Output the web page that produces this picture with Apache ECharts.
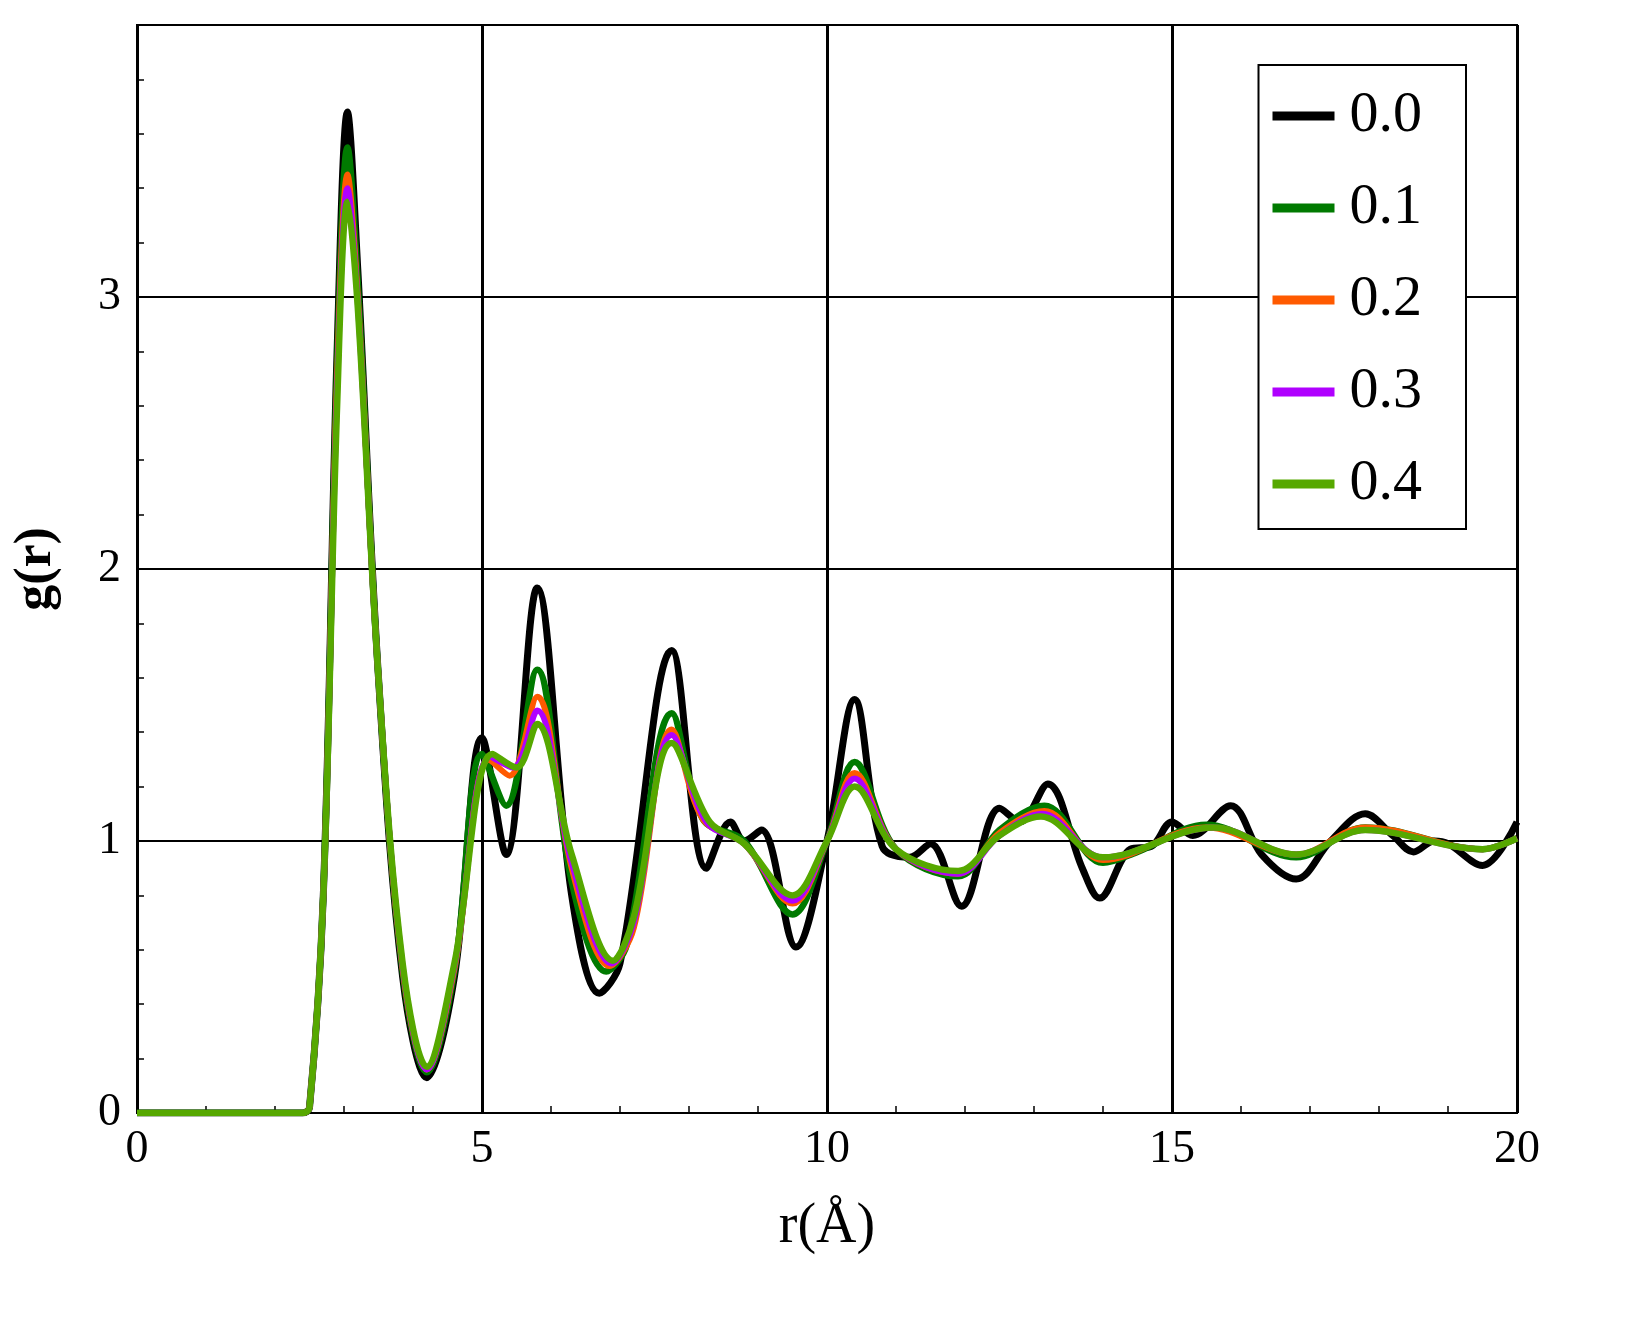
<!DOCTYPE html>
<html>
<head>
<meta charset="utf-8">
<script src="https://cdn.jsdelivr.net/npm/echarts@6/dist/echarts.min.js"></script>
<style>html,body{margin:0;padding:0;background:#fff}#chart{width:1632px;height:1336px}</style>
</head>
<body>
<div id="chart"></div>
<script>
// g(r) key points, [r, g]
const names = ['0.0', '0.1', '0.2', '0.3', '0.4'];
const colors = ['#000000', '#007a00', '#ff5a00', '#b000ff', '#56a800'];
const widths = [7, 6.5, 6, 6, 6.5];
const g00 = [[0,0],[2.4,0],[2.5,0.02],[2.7,0.8],[2.9,2.8],[3.05,3.68],[3.2,3.1],[3.5,1.6],[3.85,0.5],[4.2,0.13],[4.6,0.5],[5.0,1.38],[5.35,0.95],[5.8,1.93],[6.3,0.8],[6.7,0.44],[7.0,0.55],[7.75,1.70],[8.25,0.9],[8.6,1.07],[8.8,1.0],[9.05,1.04],[9.55,0.61],[10.0,1.0],[10.4,1.52],[10.8,0.98],[11.2,0.94],[11.5,0.99],[11.95,0.76],[12.5,1.12],[12.8,1.07],[13.2,1.21],[13.7,0.9],[13.95,0.79],[14.4,0.97],[14.7,0.98],[15.0,1.07],[15.3,1.02],[15.85,1.13],[16.3,0.95],[16.8,0.86],[17.3,1.0],[17.8,1.1],[18.2,1.02],[18.5,0.96],[18.8,1.0],[19.0,0.99],[19.5,0.91],[20,1.07]];
const g01 = [[0,0],[2.4,0],[2.5,0.02],[2.7,0.8],[2.9,2.75],[3.05,3.55],[3.2,3.05],[3.5,1.6],[3.85,0.52],[4.2,0.15],[4.6,0.52],[5.0,1.32],[5.35,1.13],[5.8,1.63],[6.3,0.85],[6.8,0.52],[7.1,0.62],[7.75,1.47],[8.2,1.08],[8.8,1.0],[9.5,0.73],[10.0,1.0],[10.4,1.29],[11.0,0.97],[11.9,0.87],[12.5,1.04],[13.15,1.13],[14.0,0.92],[14.5,0.96],[15.5,1.06],[16.8,0.94],[17.8,1.05],[19.5,0.97],[20,1.01]];
const g02 = [[0,0],[2.4,0],[2.5,0.02],[2.7,0.8],[2.9,2.7],[3.05,3.45],[3.2,3.0],[3.5,1.6],[3.85,0.53],[4.2,0.16],[4.6,0.53],[5.1,1.3],[5.4,1.24],[5.8,1.53],[6.3,0.9],[6.85,0.54],[7.2,0.68],[7.75,1.41],[8.2,1.08],[8.8,0.99],[9.5,0.77],[10.0,1.0],[10.4,1.25],[11.0,0.97],[11.9,0.88],[12.5,1.03],[13.15,1.11],[14.0,0.93],[15.5,1.05],[16.8,0.95],[17.8,1.05],[19.5,0.97],[20,1.01]];
const g03 = [[0,0],[2.4,0],[2.5,0.02],[2.7,0.8],[2.9,2.65],[3.05,3.40],[3.2,2.98],[3.5,1.6],[3.85,0.54],[4.2,0.16],[4.6,0.54],[5.12,1.31],[5.45,1.27],[5.8,1.48],[6.3,0.92],[6.88,0.55],[7.2,0.7],[7.75,1.39],[8.25,1.07],[8.8,0.99],[9.5,0.78],[10.0,1.0],[10.4,1.23],[11.0,0.97],[11.9,0.88],[12.5,1.02],[13.12,1.1],[14.0,0.94],[15.6,1.05],[16.8,0.95],[17.8,1.04],[19.5,0.97],[20,1.01]];
const g04 = [[0,0],[2.4,0],[2.5,0.02],[2.7,0.8],[2.9,2.6],[3.05,3.35],[3.2,2.96],[3.5,1.6],[3.85,0.55],[4.2,0.17],[4.6,0.55],[5.15,1.32],[5.5,1.27],[5.8,1.43],[6.3,0.95],[6.9,0.56],[7.2,0.72],[7.75,1.36],[8.3,1.07],[8.8,0.99],[9.5,0.8],[10.0,1.0],[10.4,1.2],[11.0,0.97],[11.9,0.89],[12.5,1.02],[13.1,1.09],[14.0,0.94],[15.6,1.05],[16.8,0.95],[17.8,1.04],[19.5,0.97],[20,1.01]];
const seriesData = [g00, g01, g02, g03, g04];

const chart = echarts.init(document.getElementById('chart'));
const font = 'Liberation Serif';
chart.setOption({
  animation: false,
  grid: { left: 137, right: 115, top: 25, bottom: 223, show: true, borderColor: '#000', borderWidth: 2 },
  legend: {
    orient: 'vertical', right: 166, top: 65,
    itemWidth: 62, itemHeight: 9, itemGap: 34,
    padding: [22, 44, 16, 14],
    borderColor: '#000', borderWidth: 2, backgroundColor: '#fff',
    textStyle: { fontFamily: font, fontSize: 58, color: '#000', padding: [0, 0, -28, 10] },
    icon: 'rect',
    data: names
  },
  xAxis: {
    type: 'value', min: 0, max: 20, interval: 5,
    name: 'r(Å)', nameLocation: 'middle', nameGap: 86,
    nameTextStyle: { fontFamily: font, fontSize: 56, color: '#000' },
    axisLine: { lineStyle: { color: '#000', width: 2 } },
    axisTick: { inside: true, length: 12, lineStyle: { color: '#000', width: 2 } },
    minorTick: { show: true, splitNumber: 5, length: 7, lineStyle: { color: '#000', width: 1.5 } },
    axisLabel: { fontFamily: font, fontSize: 46, color: '#000', margin: 14 },
    splitLine: { show: true, lineStyle: { color: '#000', width: 3 } }
  },
  yAxis: {
    type: 'value', min: 0, max: 4, interval: 1,
    name: 'g(r)', nameLocation: 'middle', nameGap: 74,
    nameTextStyle: { fontFamily: font, fontSize: 52, fontWeight: 'bold', color: '#000' },
    axisLine: { lineStyle: { color: '#000', width: 2 } },
    axisTick: { inside: true, length: 12, lineStyle: { color: '#000', width: 2 } },
    minorTick: { show: true, splitNumber: 5, length: 7, lineStyle: { color: '#000', width: 1.5 } },
    axisLabel: { fontFamily: font, fontSize: 46, color: '#000', margin: 16,
      formatter: v => (v === 4 ? '' : v) },
    splitLine: { show: true, lineStyle: { color: '#000', width: 2 } }
  },
  series: names.map((n, i) => ({
    name: n, type: 'line', data: seriesData[i],
    smooth: 0.35, showSymbol: false, symbol: 'none',
    lineStyle: { color: colors[i], width: widths[i] },
    itemStyle: { color: colors[i] },
    z: 2 + i
  }))
});
</script>
</body>
</html>
